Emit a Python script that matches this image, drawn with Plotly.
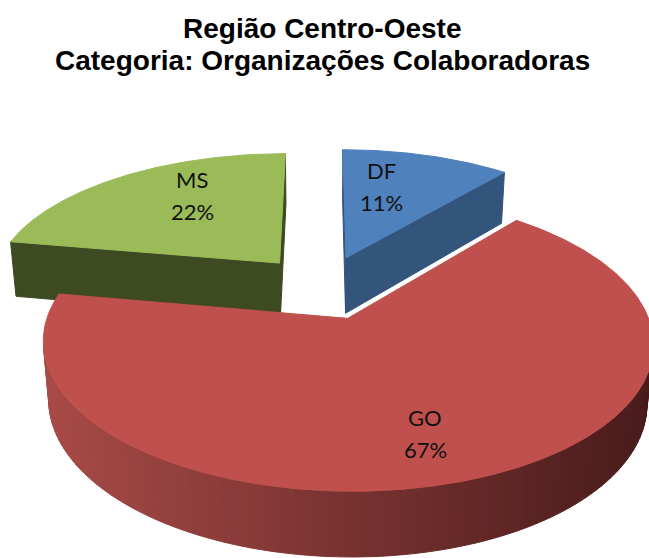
import numpy as np
import plotly.graph_objects as go

# ---------------- data ----------------
labels = ["DF", "GO", "MS"]
values = [1, 6, 2]
top_colors = ["#4F81BD", "#C0504D", "#9BBB59"]
side_colors = ["#33547B", "#8A3A38", "#3E4A22"]
band_left = [(60, 98, 142), (168, 74, 71), (76, 90, 42)]
band_right = [(38, 62, 92), (72, 27, 26), (48, 58, 27)]
title_lines = ["Região Centro-Oeste", "Categoria: Organizações Colaboradoras"]

# label placement inside each slice (fraction of slice span, fraction of radius)
label_frac = [0.33, 0.512, 0.61]
label_rad = [0.64, 0.74, 0.68]

# ---------------- geometry / view ----------------
W, H = 649, 558
S = 290.0
PHI = np.arcsin(0.462)
DIST = 5.54
OX, OY = 323.0, 287.0
PULL = 0.24
THICK = 0.225

c, s = np.cos(PHI), np.sin(PHI)
CAM_X, CAM_Z = 0.0, -DIST * c


def proj(X, Z, Y=0.0):
    X = np.asarray(X, float)
    Z = np.asarray(Z, float)
    yv = Y * c + Z * s
    zv = DIST + Z * c - Y * s
    return OX + S * X * DIST / zv, OY - S * yv * DIST / zv


def poly(xs, ys, color):
    xs = list(xs) + [xs[0]]
    ys = list(ys) + [ys[0]]
    return go.Scatter(x=xs, y=ys, mode="lines", fill="toself", fillcolor=color,
                      line=dict(color=color, width=1), hoverinfo="skip",
                      showlegend=False)


def rgb(t):
    return "rgb(%d,%d,%d)" % tuple(int(round(v)) for v in t)


total = float(sum(values))
fracs = np.array(values) / total
starts = np.concatenate([[0.0], np.cumsum(fracs)[:-1]]) * 2 * np.pi
ends = starts + fracs * 2 * np.pi

slices = []
for i in range(len(values)):
    mid = 0.5 * (starts[i] + ends[i])
    slices.append(dict(i=i, a0=starts[i], a1=ends[i],
                       xc=PULL * np.sin(mid), zc=PULL * np.cos(mid)))

# paint back to front
slices.sort(key=lambda d: -d["zc"])

fig = go.Figure()
for sl in slices:
    i, a0, a1, xc, zc = sl["i"], sl["a0"], sl["a1"], sl["xc"], sl["zc"]
    vx, vz = CAM_X - xc, CAM_Z - zc

    # radial cut faces
    for ang, nrm in ((a0, (-np.cos(a0), np.sin(a0))), (a1, (np.cos(a1), -np.sin(a1)))):
        if nrm[0] * vx + nrm[1] * vz > 0:
            ex, ez = xc + np.sin(ang), zc + np.cos(ang)
            p1 = proj(xc, zc, 0.0)
            p2 = proj(ex, ez, 0.0)
            p3 = proj(ex, ez, -THICK)
            p4 = proj(xc, zc, -THICK)
            fig.add_trace(poly([p1[0], p2[0], p3[0], p4[0]],
                               [p1[1], p2[1], p3[1], p4[1]], side_colors[i]))

    # outer curved side (shaded band)
    nseg = max(8, int(np.degrees(a1 - a0) / 1.5))
    edges = np.linspace(a0, a1, nseg + 1)
    segs = []
    for k in range(nseg):
        ta, tb = edges[k], edges[k + 1]
        m = 0.5 * (ta + tb)
        px, pz = xc + np.sin(m), zc + np.cos(m)
        if np.sin(m) * (CAM_X - px) + np.cos(m) * (CAM_Z - pz) > 0:
            segs.append((ta, tb))
    if segs:
        xs_all = [proj(xc + np.sin(t), zc + np.cos(t))[0] for seg in segs for t in seg]
        xmin, xmax = min(xs_all), max(xs_all)
        for ta, tb in segs:
            tt = np.linspace(ta, tb, 4)
            tx, ty = proj(xc + np.sin(tt), zc + np.cos(tt), 0.0)
            bx, by = proj(xc + np.sin(tt[::-1]), zc + np.cos(tt[::-1]), -THICK)
            xm = 0.5 * (tx[0] + tx[-1])
            f = (xm - xmin) / max(1e-9, xmax - xmin)
            col = tuple(band_left[i][j] + f * (band_right[i][j] - band_left[i][j]) for j in range(3))
            fig.add_trace(poly(np.concatenate([tx, bx]), np.concatenate([ty, by]), rgb(col)))

    # top face
    tt = np.linspace(a0, a1, max(20, int(np.degrees(a1 - a0) * 2)))
    ax_, ay_ = proj(xc + np.sin(tt), zc + np.cos(tt), 0.0)
    cx_, cy_ = proj(xc, zc, 0.0)
    fig.add_trace(poly(np.concatenate([[cx_], ax_]), np.concatenate([[cy_], ay_]), top_colors[i]))

# data labels
annotations = []
for sl in slices:
    i = sl["i"]
    ang = sl["a0"] + label_frac[i] * (sl["a1"] - sl["a0"])
    lx, ly = proj(sl["xc"] + label_rad[i] * np.sin(ang), sl["zc"] + label_rad[i] * np.cos(ang))
    pct = "%d%%" % round(100 * values[i] / total)
    for txt, dy in ((labels[i], -16), (pct, 16)):
        annotations.append(dict(x=float(lx), y=float(ly) + dy, xref="x", yref="y", text=txt,
                                showarrow=False, xanchor="center", yanchor="middle",
                                font=dict(family="Lato", size=22, color="#111111")))

# title
for txt, yy in zip(title_lines, (28, 60)):
    annotations.append(dict(x=322, y=yy, xref="x", yref="y", text="<b>%s</b>" % txt,
                            showarrow=False, xanchor="center", yanchor="middle",
                            font=dict(family="Liberation Sans", size=28, color="#000000")))

fig.update_layout(
    width=W, height=H, margin=dict(l=0, r=0, t=0, b=0),
    paper_bgcolor="white", plot_bgcolor="white",
    xaxis=dict(range=[0, W], visible=False, fixedrange=True),
    yaxis=dict(range=[H, 0], visible=False, fixedrange=True),
    annotations=annotations, showlegend=False,
)

fig.write_html("out.html", config={"displayModeBar": False},
               post_script="document.body.style.margin='0';")
